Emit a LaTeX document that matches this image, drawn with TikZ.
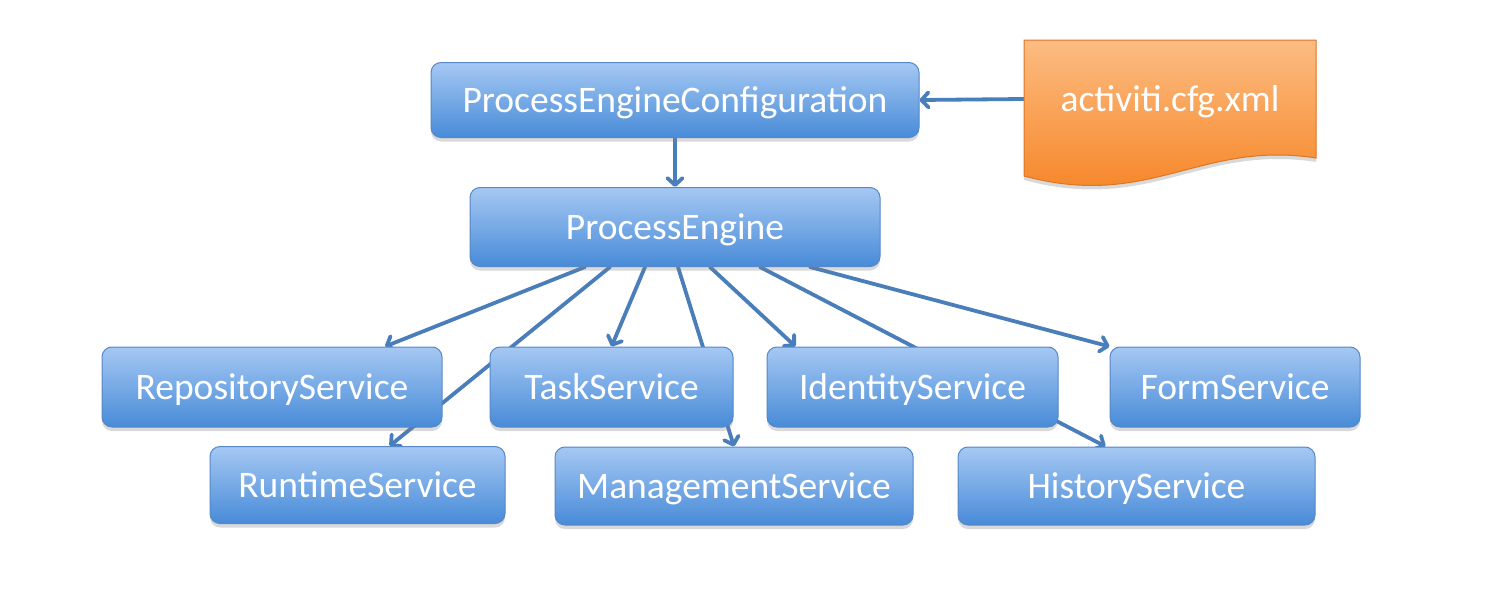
\documentclass[tikz,border=0pt]{standalone}
\usepackage{fontspec}
\setmainfont{Carlito}
\usetikzlibrary{arrows.meta,shadows,backgrounds}
\definecolor{boxtop}{RGB}{165,200,243}
\definecolor{boxbot}{RGB}{72,139,216}
\definecolor{boxline}{RGB}{86,135,200}
\definecolor{arrowc}{RGB}{74,126,187}
\definecolor{doctop}{RGB}{252,188,130}
\definecolor{docbot}{RGB}{245,128,30}
\definecolor{docline}{RGB}{222,118,35}
\begin{document}
\begin{tikzpicture}[x=1pt,y=-1pt,
  svc/.style={rectangle, rounded corners=10pt, draw=boxline, line width=1pt,
    top color=boxtop, bottom color=boxbot, text=white,
    font=\fontsize{37.5}{39}\selectfont, inner sep=0pt,
    text height=30pt, text depth=6pt,
    drop shadow={shadow xshift=0pt, shadow yshift=-4pt, opacity=0.3}},
  conn/.style={draw=arrowc, line width=3.8pt, line cap=round,
    -{Straight Barb[length=7pt,width=15pt,round]}}]
\useasboundingbox (0,0) rectangle (1491,589);

% nodes
\node[svc, minimum width=488pt, minimum height=75pt] (pec) at (675,100) {ProcessEngineConfiguration};
\node[svc, minimum width=410pt, minimum height=79pt] (pe) at (675,227) {ProcessEngine};
\node[svc, minimum width=340pt, minimum height=80pt] (repo) at (272,387) {RepositoryService};
\node[svc, minimum width=243pt, minimum height=80pt] (task) at (611.5,387) {TaskService};
\node[svc, minimum width=291pt, minimum height=80pt] (ident) at (912.5,387) {IdentityService};
\node[svc, minimum width=250pt, minimum height=80pt] (form) at (1235,387) {FormService};
\node[svc, minimum width=295pt, minimum height=77pt] (run) at (357.5,485) {RuntimeService};
\node[svc, minimum width=358pt, minimum height=78pt] (mgmt) at (734,486) {ManagementService};
\node[svc, minimum width=357pt, minimum height=78pt] (hist) at (1136.5,486) {HistoryService};

% document shape
\path[draw=docline, line width=1pt, top color=doctop, bottom color=docbot,
  drop shadow={shadow xshift=0pt, shadow yshift=-4pt, opacity=0.3}]
  (1024,40) -- (1316,40) -- (1316,158)
  .. controls (1200,140) and (1150,210) .. (1024,176) -- cycle;
\node[text=white, font=\fontsize{37.5}{39}\selectfont, minimum width=292pt,
  minimum height=118pt, inner sep=0pt, text height=30pt, text depth=6pt] (cfg) at (1170,99) {activiti.cfg.xml};

% connectors
\begin{pgfonlayer}{background}
\draw[conn] (cfg.west) -- (pec.east);
\draw[conn] (pec.south) -- (pe.north);
\draw[conn] ([xshift=-90pt]pe.south) -- ([xshift=113pt]repo.north);
\draw[conn] ([xshift=-65pt]pe.south) -- ([xshift=32pt]run.north);
\draw[conn] ([xshift=-30pt]pe.south) -- (task.north);
\draw[conn] ([xshift=3pt]pe.south) -- (mgmt.north);
\draw[conn] ([xshift=35pt]pe.south) -- ([xshift=-117pt]ident.north);
\draw[conn] ([xshift=85pt]pe.south) -- ([xshift=-31pt]hist.north);
\draw[conn] ([xshift=135pt]pe.south) -- (form.north west);
\end{pgfonlayer}
\end{tikzpicture}
\end{document}
